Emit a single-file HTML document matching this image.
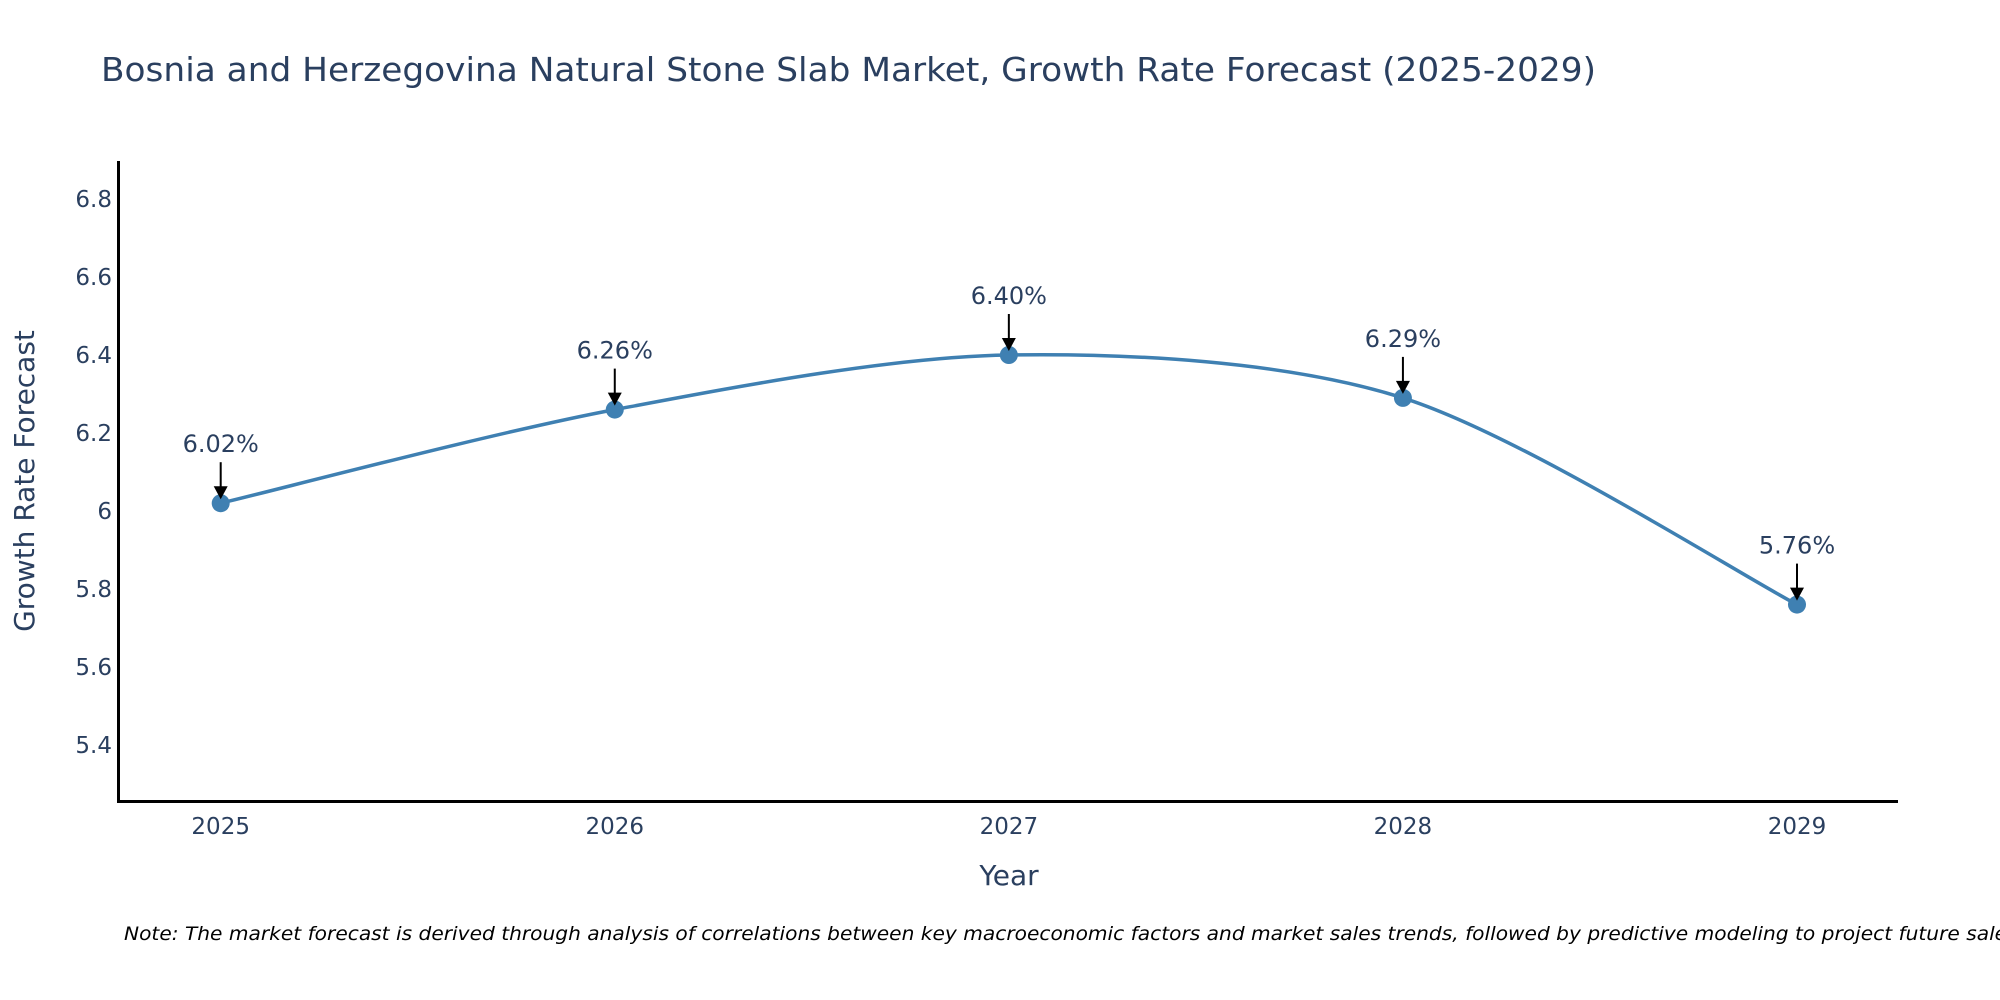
<!DOCTYPE html>
<html><head><meta charset="utf-8"><style>
html,body{margin:0;padding:0;background:#fff;}
svg{display:block;font-family:"DejaVu Sans","Liberation Sans",sans-serif;}
</style></head><body>
<svg id="chart" width="2000" height="1000">
<text x="101" y="81" font-size="33" fill="#2a3f5f" textLength="1495" lengthAdjust="spacingAndGlyphs">Bosnia and Herzegovina Natural Stone Slab Market, Growth Rate Forecast (2025-2029)</text>
<g id="yticks"></g>
<g id="xticks"></g>
<line x1="118.5" y1="161" x2="118.5" y2="802" stroke="#000" stroke-width="3"/>
<line x1="117" y1="801.5" x2="1898" y2="801.5" stroke="#000" stroke-width="3"/>
<text transform="translate(34,481) rotate(-90)" text-anchor="middle" font-size="28" fill="#2a3f5f">Growth Rate Forecast</text>
<text x="1009" y="885" text-anchor="middle" font-size="28" fill="#2a3f5f">Year</text>
<g id="series"></g>
<g id="annots"></g>
<text x="124" y="940" font-size="19" font-style="italic" fill="#000" textLength="1900" lengthAdjust="spacingAndGlyphs">Note: The market forecast is derived through analysis of correlations between key macroeconomic factors and market sales trends, followed by predictive modeling to project future sales.</text>
</svg>
<script>
const years = [2025, 2026, 2027, 2028, 2029];
const values = [6.02, 6.26, 6.40, 6.29, 5.76];
const labels = ["6.02%", "6.26%", "6.40%", "6.29%", "5.76%"];
const yTicks = [5.4, 5.6, 5.8, 6, 6.2, 6.4, 6.6, 6.8];
const yTickLabels = ["5.4", "5.6", "5.8", "6", "6.2", "6.4", "6.6", "6.8"];

const NS = "http://www.w3.org/2000/svg";
function xs(v){ return 220.7 + (v - 2025) * (1797 - 220.7) / 4; }
function ys(v){ return 745 - (v - 5.4) * (745 - 199) / 1.4; }
function mk(tag, attrs, parent){ const e = document.createElementNS(NS, tag); for (const k in attrs) e.setAttribute(k, attrs[k]); parent.appendChild(e); return e; }

const yg = document.getElementById('yticks');
yTicks.forEach((t, i) => {
  const tx = mk('text', {x: 112, y: ys(t) + 8, 'text-anchor': 'end', 'font-size': 23, fill: '#2a3f5f'}, yg);
  
  
  tx.textContent = yTickLabels[i];
});
const xg = document.getElementById('xticks');
years.forEach(y => {
  const tx = mk('text', {x: xs(y), y: 834, 'text-anchor': 'middle', 'font-size': 23, fill: '#2a3f5f'}, xg);
  
  
  tx.textContent = String(y);
});

const pts = years.map((y, i) => [xs(y), ys(values[i])]);
let d = 'M' + pts[0][0] + ',' + pts[0][1];
const s = 0.15;
for (let i = 0; i < pts.length - 1; i++) {
  const p0 = pts[Math.max(0, i - 1)], p1 = pts[i], p2 = pts[i + 1], p3 = pts[Math.min(pts.length - 1, i + 2)];
  const c1 = [p1[0] + (p2[0] - p0[0]) * s, p1[1] + (p2[1] - p0[1]) * s];
  const c2 = [p2[0] - (p3[0] - p1[0]) * s, p2[1] - (p3[1] - p1[1]) * s];
  d += ' C' + c1[0] + ',' + c1[1] + ' ' + c2[0] + ',' + c2[1] + ' ' + p2[0] + ',' + p2[1];
}
const sg = document.getElementById('series');
const line = mk('path', {d: d, fill: 'none', stroke: '#3f80b2', 'stroke-width': 3.5}, sg);


pts.forEach(p => {
  const c = mk('circle', {cx: p[0], cy: p[1], r: 9, fill: '#3f80b2'}, sg);
  
  
});

const ag = document.getElementById('annots');
pts.forEach((p, i) => {
  const l = mk('line', {x1: p[0], y1: p[1] - 41, x2: p[0], y2: p[1] - 14, stroke: '#000', 'stroke-width': 2}, ag);
  
  
  const h = mk('path', {d: 'M' + (p[0] - 7) + ',' + (p[1] - 17) + ' L' + (p[0] + 7) + ',' + (p[1] - 17) + ' L' + p[0] + ',' + (p[1] - 4) + 'Z', fill: '#000'}, ag);
  
  
  const t = mk('text', {x: p[0], y: p[1] - 51, 'text-anchor': 'middle', 'font-size': 24, fill: '#2a3f5f'}, ag);
  
  
  t.textContent = labels[i];
});
</script>
</body></html>
